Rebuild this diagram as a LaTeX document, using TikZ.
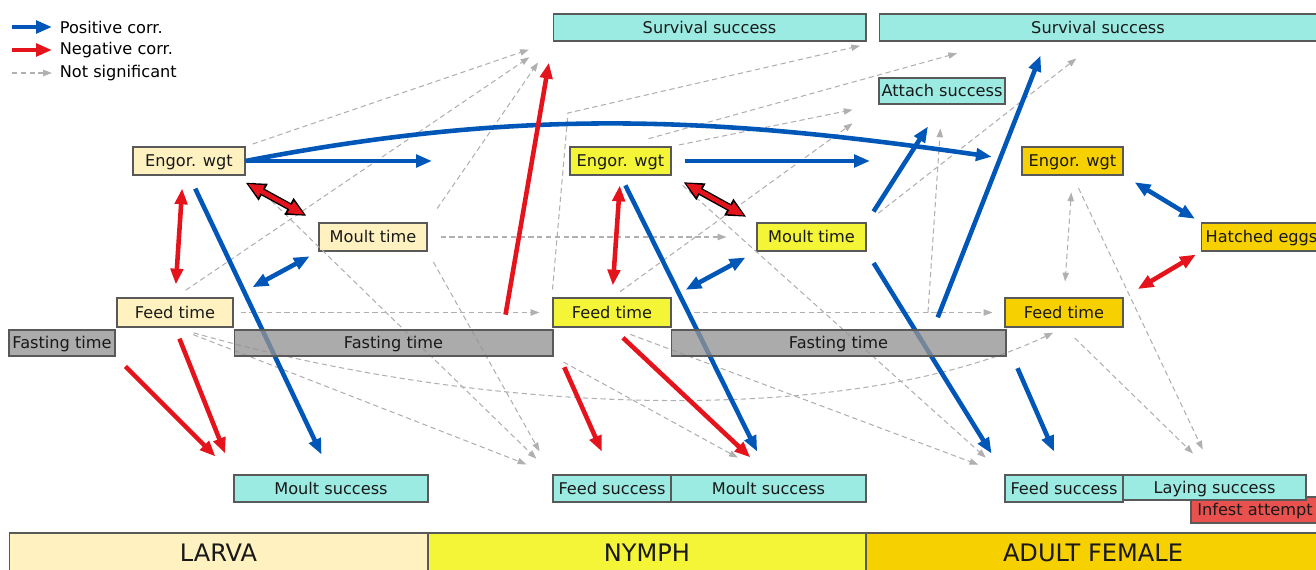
\documentclass[tikz,border=0pt]{standalone}
\usepackage{fontspec}
\setmainfont{DejaVu Sans}
\usetikzlibrary{arrows.meta,calc}
\pgfdeclarelayer{front}
\pgfsetlayers{main,front}

\definecolor{larvaFill}{HTML}{FFF2C0}
\definecolor{nymphFill}{HTML}{F4F536}
\definecolor{adultFill}{HTML}{F7D000}
\definecolor{succFill}{HTML}{9CEBE3}
\definecolor{fastFill}{HTML}{939393}
\definecolor{infestFill}{HTML}{E9514F}
\definecolor{posBlue}{HTML}{0057B8}
\definecolor{negRed}{HTML}{E5131B}
\definecolor{nsGray}{HTML}{B0B0B0}

\begin{document}
\begin{tikzpicture}[x=0.02cm,y=-0.02cm,
		font=\fontsize{9.2}{11}\selectfont,
		varbox/.style={draw=black!65,line width=0.6pt,inner sep=0pt,minimum height=0.56cm,text height=7.5pt,text depth=0.8pt,text=black!90},
		succbox/.style={varbox,fill=succFill},
		fastbox/.style={varbox,fill=fastFill,fill opacity=0.78,text opacity=1,minimum height=0.52cm},
		phasebox/.style={varbox,minimum height=0.8cm,text height=11pt,text depth=1pt,font=\fontsize{13.7}{16}\selectfont},
		corrPos/.style={draw=posBlue,line width=2.6pt,-{Triangle[length=9pt,width=7pt]}},
		corrPosBoth/.style={corrPos,{Triangle[length=9pt,width=7pt]}-{Triangle[length=9pt,width=7pt]}},
		corrNeg/.style={draw=negRed,line width=2.6pt,-{Triangle[length=9pt,width=7pt]}},
		corrNegBoth/.style={corrNeg,{Triangle[length=9pt,width=7pt]}-{Triangle[length=9pt,width=7pt]}},
		corrNegRim/.style={draw=black,line width=4.2pt,{Triangle[length=11.5pt,width=10pt]}-{Triangle[length=11.5pt,width=10pt]}},
		corrNone/.style={draw=nsGray,line width=0.6pt,dash pattern=on 3pt off 2pt,-{Triangle[length=5pt,width=3.6pt]}},
		corrNoneBoth/.style={corrNone,{Triangle[length=5pt,width=3.6pt]}-{Triangle[length=5pt,width=3.6pt]}}]
			%%%%% START %%%%%
			\useasboundingbox (0,0) rectangle (1316,570);
			
			% legend
			\node[anchor=west,inner sep=2pt] (legPos) at (56,27) {Positive corr.};
			\node[anchor=west,inner sep=2pt] (legNeg) at (56,50) {Negative corr.};
			\node[anchor=west,inner sep=2pt] (legNon) at (56,73) {Not significant};
			\draw[corrPos] ([xshift=-0.88cm]legPos.west) -- ([xshift=-0.08cm]legPos.west);
			\draw[corrNeg] ([xshift=-0.88cm]legNeg.west) -- ([xshift=-0.08cm]legNeg.west);
			\draw[corrNone] ([xshift=-0.88cm]legNon.west) -- ([xshift=-0.08cm]legNon.west);
			
			% stages
			\node[phasebox,fill=larvaFill,minimum width=8.38cm] (larva) at (218.5,553) {LARVA};
			\node[phasebox,fill=nymphFill,minimum width=8.76cm] (nymph) at (647,553) {NYMPH};
			\node[phasebox,fill=adultFill,minimum width=9.08cm] (adult) at (1093,553) {ADULT FEMALE};
			
			% larva
			\node[varbox,fill=larvaFill,minimum width=2.24cm] (lE) at (189,161) {Engor. wgt};
			\node[varbox,fill=larvaFill,minimum width=2.16cm] (lM) at (373,237) {Moult time};
			\node[varbox,fill=larvaFill,minimum width=2.32cm,minimum height=0.58cm] (lF) at (175,312.5) {Feed time};
			\node[succbox,minimum width=3.88cm,minimum height=0.54cm] (lMS) at (331,488.5) {Moult success};
			
			% nymph
			\node[succbox,minimum width=6.26cm,minimum height=0.54cm] (nS) at (709.5,27.5) {Survival success};
			\node[varbox,fill=nymphFill,minimum width=2.02cm] (nE) at (620.5,161) {Engor. wgt};
			\node[varbox,fill=nymphFill,minimum width=2.18cm] (nM) at (811.5,237) {Moult time};
			\node[varbox,fill=nymphFill,minimum width=2.36cm,minimum height=0.58cm] (nF) at (612,312.5) {Feed time};
			\node[succbox,minimum width=2.36cm,minimum height=0.54cm] (nFS) at (612,488.5) {Feed success};
			\node[succbox,minimum width=3.9cm,minimum height=0.54cm] (nMS) at (768.5,488.5) {Moult success};
			
			% adult female
			\node[succbox,minimum width=8.76cm,minimum height=0.54cm] (aS) at (1098,27.5) {Survival success};
			\node[succbox,minimum width=2.52cm,minimum height=0.52cm] (aA) at (942,91) {Attach success};
			\node[varbox,fill=adultFill,minimum width=2.02cm] (aE) at (1072.5,161) {Engor. wgt};
			\node[varbox,fill=adultFill,minimum width=2.4cm,anchor=west] (aH) at (1201,237) {Hatched eggs};
			\node[varbox,fill=adultFill,minimum width=2.36cm,minimum height=0.58cm] (aF) at (1064,312.5) {Feed time};
			\node[varbox,fill=infestFill,minimum width=2.56cm,minimum height=0.52cm] (aI) at (1255,510) {Infest attempt};
			\node[succbox,minimum width=2.36cm,minimum height=0.54cm] (aFS) at (1064,488.5) {Feed success};
			\node[succbox,minimum width=3.66cm,minimum height=0.5cm] (aLS) at (1214.5,487.5) {Laying success};
			
			\begin{pgfonlayer}{front}
				\node[fastbox,minimum width=2.12cm] (fast0) at (62,343) {Fasting time};
				\node[fastbox,minimum width=6.38cm] (fast1) at (393.5,343) {Fasting time};
				\node[fastbox,minimum width=6.7cm] (fast2) at (838.5,343) {Fasting time};
			\end{pgfonlayer}
			
			\coordinate (lEgo) at (432,161);
			\coordinate (nEgo) at (870,161);
			\coordinate (bendA) at (568,113);
			
			% not significant
			\draw[corrNone,shorten <=0.15cm,shorten >=0.5cm] (lE.north east) -- (nS.south west);
			\draw[corrNone,shorten <=0.26cm,shorten >=0.56cm] (lF.north) -- (nS.south west);
			\draw[corrNone,shorten <=0.34cm,shorten >=0.51cm] (lM.north east) -- (nS.south west);
			\draw[corrNone,shorten <=0.26cm,shorten >=0.6cm] (lM.east) -- (nM.west);
			\draw[corrNone,shorten <=0.14cm,shorten >=0.26cm] (lF.east) -- (nF.west);
			\draw[corrNone,shorten <=0.2cm,shorten >=0.45cm] (lE.south east) -- (nFS.north west);
			\draw[corrNone,shorten <=0.24cm,shorten >=0.53cm] (lM.south east) -- (nFS.north west);
			\draw[corrNone,shorten <=0.39cm,shorten >=0.56cm] (lF.south) -- (nFS.north west);
			\draw[corrNone,shorten <=0.39cm,shorten >=0.24cm] (lF.south) .. controls (500,420) and (860,425) .. (aF.south);
			\draw[corrNone,shorten >=0.38cm] ([yshift=0.16cm]nF.north west) -- (bendA) -- (aS.south west);
			\draw[corrNone,shorten >=0.48cm] ([shift={(1.79cm,0.34cm)}]fast2.north) -- (aA.south);
			\draw[corrNone,shorten <=0.15cm,shorten >=0.53cm] (nE.north east) -- (aA.south west);
			\draw[corrNone,shorten <=0.58cm,shorten >=0.88cm] (nE.north) -- ([xshift=2.42cm]aS.south west);
			\draw[corrNone,shorten <=0.2cm,shorten >=0.64cm] (nF.north) -- (aA.south west);
			\draw[corrNone,shorten <=0.3cm,shorten >=0.55cm] (nM.north east) -- (aS.south);
			\draw[corrNone,shorten <=0.28cm,shorten >=0.24cm] (nF.east) -- (aF.west);
			\draw[corrNone,shorten <=0.3cm,shorten >=0.5cm] (nE.south east) -- (aFS.north west);
			\draw[corrNone,shorten <=0.39cm,shorten >=0.56cm] (nF.south) -- (aFS.north west);
			\draw[corrNone,shorten <=0.23cm,shorten >=0.7cm] (fast1.south east) -- (nMS.north);
			\draw[corrNone,shorten <=0.28cm,shorten >=0.55cm] (aE.south) -- (aLS.north);
			\draw[corrNone,shorten <=0.3cm,shorten >=0.6cm] (aF.south) -- (aLS.north);
			\draw[corrNoneBoth,shorten <=0.34cm,shorten >=0.32cm] (aE.south) -- (aF.north);
			
			% positive
			\draw[corrPos] (lE.east) -- (lEgo);
			\draw[corrPos,shorten >=0.6cm] (lE.east) .. controls (530,106) and (720,118) .. (aE.west);
			\draw[corrPos,shorten <=0.29cm,shorten >=0.44cm] (lE.south) -- (lMS.north);
			\draw[corrPosBoth,shorten <=0.43cm,shorten >=0.2cm] (lF.north east) -- (lM.south west);
			\draw[corrPos,shorten <=0.26cm] (nE.east) -- (nEgo);
			\draw[corrPos,shorten <=0.22cm,shorten >=0.51cm] (nE.south) -- (nMS.north);
			\draw[corrPosBoth,shorten <=0.32cm,shorten >=0.25cm] (nF.north east) -- (nM.south west);
			\draw[corrPos,shorten <=0.26cm,shorten >=0.52cm] (nM.north east) -- (aA.south);
			\draw[corrPos,shorten <=0.27cm,shorten >=0.49cm] (nM.south east) -- (aFS.north west);
			\draw[corrPos,shorten <=0.26cm,shorten >=0.3cm] ([xshift=1.89cm]fast2.north) -- ([xshift=-1.04cm]aS.south);
			\draw[corrPos,shorten <=0.55cm,shorten >=0.5cm] (fast2.east) -- (aFS.north);
			\draw[corrPosBoth,shorten <=0.26cm,shorten >=0.14cm] (aE.south east) -- (aH.north west);
			
			% negative
			\draw[corrNegBoth,shorten <=0.26cm,shorten >=0.26cm] ([xshift=-0.12cm]lE.south) -- (lF.north);
			\draw[corrNegRim,shorten >=0.27cm] ([yshift=-0.14cm]lE.south east) -- (lM.north west);
			\draw[corrNegBoth,shorten <=0.05cm,shorten >=0.32cm] ([yshift=-0.14cm]lE.south east) -- (lM.north west);
			\draw[corrNeg,shorten <=0.28cm,shorten >=0.51cm] (fast0.south east) -- (lMS.north west);
			\draw[corrNeg,shorten <=0.24cm,shorten >=0.45cm] (lF.south) -- (lMS.north west);
			\draw[corrNeg,shorten <=0.3cm,shorten >=0.43cm] ([xshift=2.19cm]fast1.north) -- (nS.south west);
			\draw[corrNegBoth,shorten <=0.2cm,shorten >=0.24cm] (nE.south) -- (nF.north);
			\draw[corrNegRim,shorten <=0.27cm,shorten >=0.23cm] (nE.south east) -- (nM.north west);
			\draw[corrNegBoth,shorten <=0.32cm,shorten >=0.28cm] (nE.south east) -- (nM.north west);
			\draw[corrNeg,shorten <=0.53cm,shorten >=0.5cm] (fast1.east) -- (nFS.north);
			\draw[corrNeg,shorten <=0.3cm,shorten >=0.5cm] (nF.south) -- (nMS.north);
			\draw[corrNegBoth,shorten <=0.33cm,shorten >=0.12cm] (aF.north east) -- (aH.south west);
			
			%%%%% END %%%%%
\end{tikzpicture}
\end{document}
